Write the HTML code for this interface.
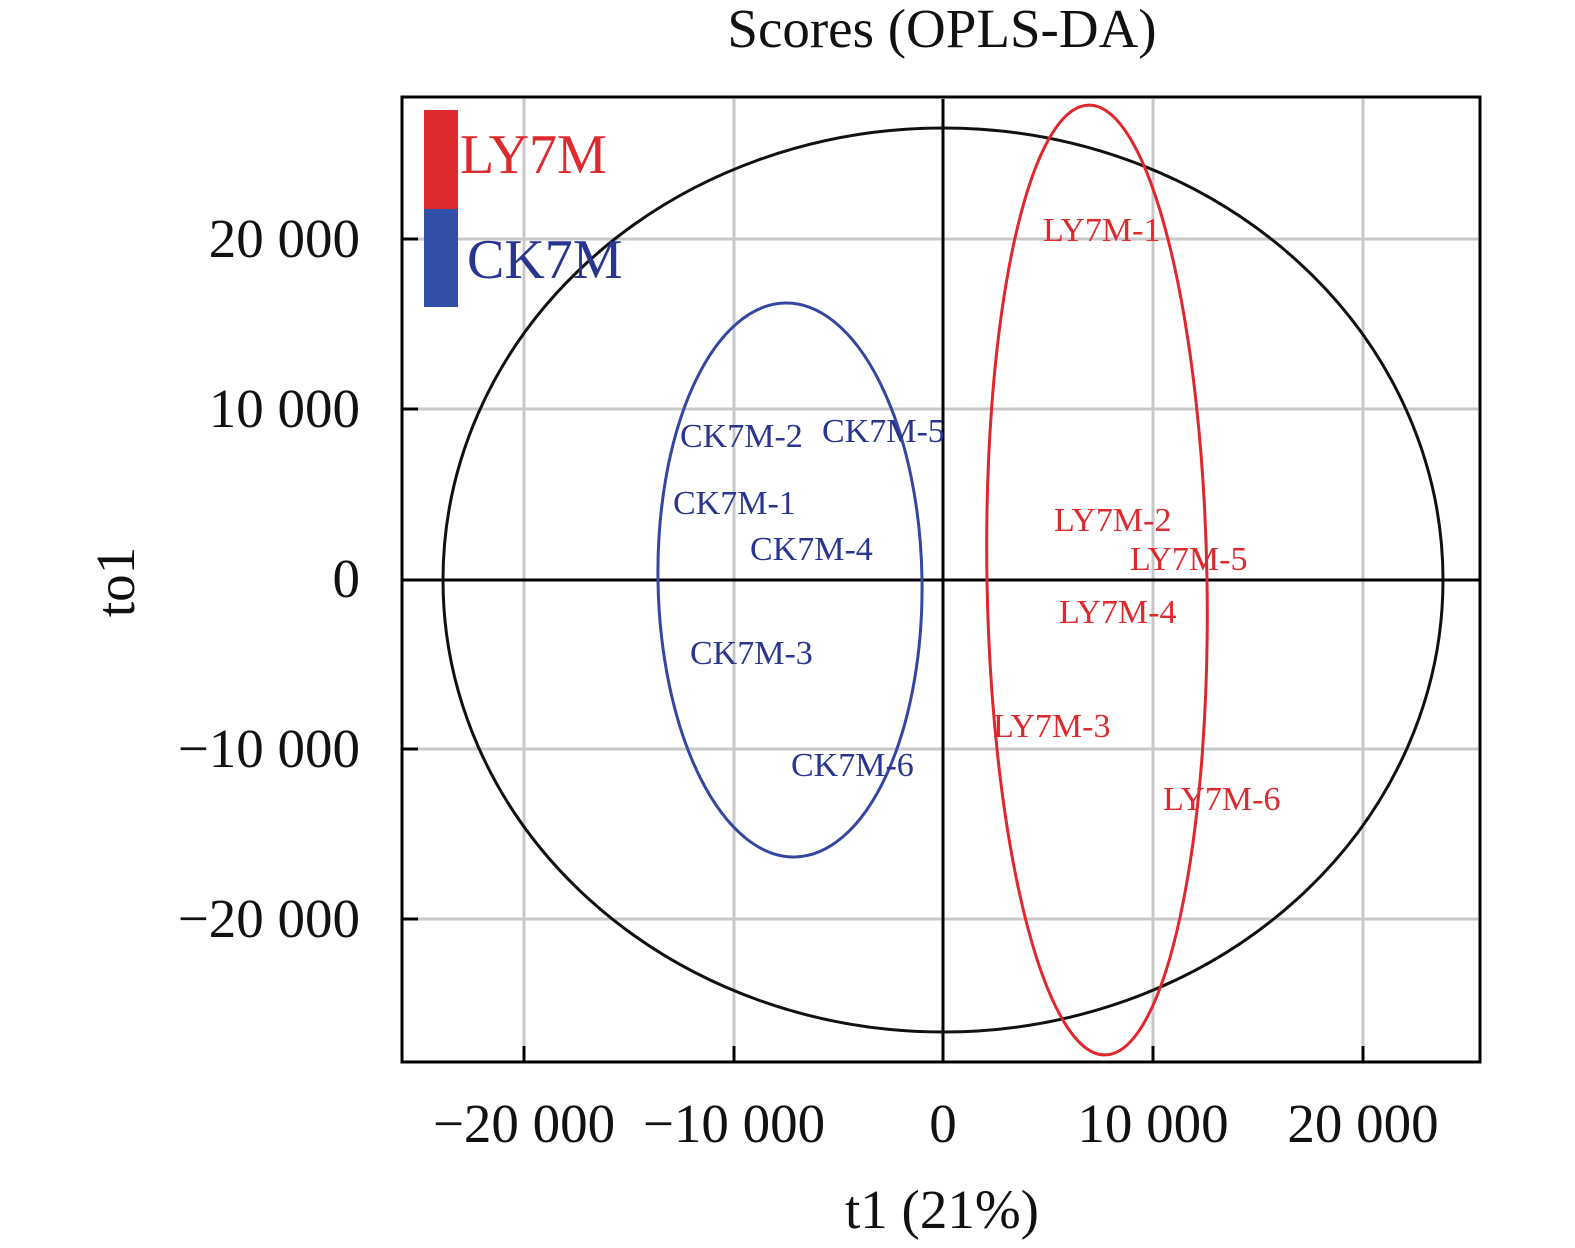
<!DOCTYPE html>
<html><head><style>
html,body{margin:0;padding:0;background:#fff;}
svg{display:block;}
text{font-family:"Liberation Serif",serif;}
</style></head><body>
<svg width="1575" height="1248" xmlns="http://www.w3.org/2000/svg">
<rect width="1575" height="1248" fill="#fff"/>
<g stroke="#c8c8c8" stroke-width="3">
<line x1="524" y1="99" x2="524" y2="1046"/>
<line x1="734" y1="99" x2="734" y2="1046"/>
<line x1="1153" y1="99" x2="1153" y2="1046"/>
<line x1="1363" y1="99" x2="1363" y2="1046"/>
<line x1="418" y1="239" x2="1478" y2="239"/>
<line x1="418" y1="409" x2="1478" y2="409"/>
<line x1="418" y1="749" x2="1478" y2="749"/>
<line x1="418" y1="919" x2="1478" y2="919"/>
</g>
<g stroke="#000" stroke-width="3">
<line x1="943" y1="99" x2="943" y2="1062"/>
<line x1="402" y1="580" x2="1480" y2="580"/>
<line x1="402" y1="239" x2="418" y2="239"/>
<line x1="402" y1="409" x2="418" y2="409"/>
<line x1="402" y1="749" x2="418" y2="749"/>
<line x1="402" y1="919" x2="418" y2="919"/>
<line x1="524" y1="1046" x2="524" y2="1062"/>
<line x1="734" y1="1046" x2="734" y2="1062"/>
<line x1="1153" y1="1046" x2="1153" y2="1062"/>
<line x1="1363" y1="1046" x2="1363" y2="1062"/>
</g>
<rect x="402" y="97" width="1078" height="965" fill="none" stroke="#000" stroke-width="3"/>
<ellipse cx="943" cy="580" rx="500" ry="452" fill="none" stroke="#111" stroke-width="3"/>
<ellipse cx="790" cy="580" rx="132" ry="277" fill="none" stroke="#3446a0" stroke-width="3" transform="rotate(-1 790 580)"/>
<ellipse cx="1097" cy="580" rx="110" ry="475" fill="none" stroke="#e0262e" stroke-width="3" transform="rotate(-1 1097 580)"/>
<rect x="424" y="110" width="34" height="99" fill="#dd2a2e"/>
<rect x="424" y="209" width="34" height="98" fill="#3250a8"/>
<text x="460" y="173" font-size="56" fill="#dd2a2e">LY7M</text>
<text x="467" y="278" font-size="56" fill="#2a3590">CK7M</text>
<g font-size="34" fill="#2a3590">
<text x="680" y="447">CK7M-2</text>
<text x="822" y="442">CK7M-5</text>
<text x="673" y="514">CK7M-1</text>
<text x="750" y="560">CK7M-4</text>
<text x="690" y="664">CK7M-3</text>
<text x="791" y="776">CK7M-6</text>
</g>
<g font-size="34" fill="#dd2a2e">
<text x="1043" y="241">LY7M-1</text>
<text x="1054" y="531">LY7M-2</text>
<text x="1130" y="570">LY7M-5</text>
<text x="1059" y="623">LY7M-4</text>
<text x="993" y="737">LY7M-3</text>
<text x="1163" y="810">LY7M-6</text>
</g>
<g font-size="55" fill="#111" text-anchor="end">
<text x="360" y="257">20 000</text>
<text x="360" y="427">10 000</text>
<text x="360" y="597">0</text>
<text x="360" y="767">−10 000</text>
<text x="360" y="937">−20 000</text>
</g>
<g font-size="55" fill="#111" text-anchor="middle">
<text x="524" y="1142">−20 000</text>
<text x="734" y="1142">−10 000</text>
<text x="943" y="1142">0</text>
<text x="1153" y="1142">10 000</text>
<text x="1363" y="1142">20 000</text>
<text x="942" y="1228">t1 (21%)</text>
<text x="942" y="47">Scores (OPLS-DA)</text>
<text transform="translate(134 582) rotate(-90)">to1</text>
</g>
</svg>
</body></html>
